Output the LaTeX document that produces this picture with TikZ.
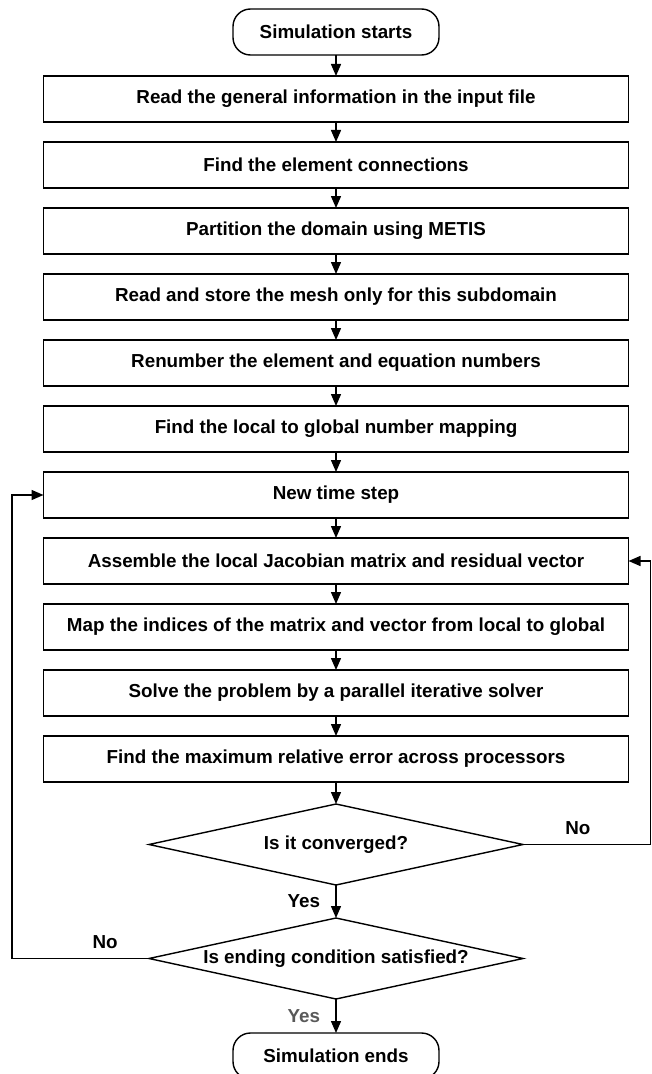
\documentclass[tikz,border=0pt]{standalone}
\usepackage{fontspec}
\setmainfont{Liberation Sans}
\usetikzlibrary{positioning, shapes.geometric, arrows.meta}

\begin{document}
\begin{tikzpicture}[
    font=\fontsize{10.7}{13}\selectfont\bfseries,
    node distance=0.4cm,
    every node/.style={outer sep=0pt},
    box/.style={draw, line width=0.8pt, minimum width=11.7cm, minimum height=0.92cm, inner sep=0pt},
    term/.style={draw, line width=0.8pt, rounded corners=0.35cm, minimum width=4.12cm, minimum height=0.92cm},
    decision/.style={draw, diamond, line width=0.8pt, aspect=4.6, inner sep=0pt, minimum width=7.48cm, minimum height=1.62cm},
    flow/.style={line width=0.8pt, -{Triangle[length=0.24cm, width=0.2cm]}}
]
  \useasboundingbox (0,0) rectangle (13.02,-21.48);

  % Main column
  \node[term] (start) at (6.72,-0.64) {Simulation starts};
  \node[box, below=0.42cm of start] (readinfo) {Read the general information in the input file};
  \node[box, below=of readinfo] (connect) {Find the element connections};
  \node[box, below=of connect] (metis) {Partition the domain using METIS};
  \node[box, below=of metis] (mesh) {Read and store the mesh only for this subdomain};
  \node[box, below=of mesh] (renum) {Renumber the element and equation numbers};
  \node[box, below=of renum] (mapping) {Find the local to global number mapping};
  \node[box, below=of mapping] (tstep) {New time step};
  \node[box, below=of tstep] (assemble) {Assemble the local Jacobian matrix and residual vector};
  \node[box, below=of assemble] (globmap) {Map the indices of the matrix and vector from local to global};
  \node[box, below=of globmap] (solve) {Solve the problem by a parallel iterative solver};
  \node[box, below=of solve] (maxerr) {Find the maximum relative error across processors};
  \node[decision, below=0.44cm of maxerr] (conv) {Is it converged?};
  \node[decision, below=0.66cm of conv] (ending) {Is ending condition satisfied?};
  \node[term, below=0.68cm of ending] (finish) {Simulation ends};

  % Straight arrows
  \draw[flow] (start) -- (readinfo);
  \draw[flow] (readinfo) -- (connect);
  \draw[flow] (connect) -- (metis);
  \draw[flow] (metis) -- (mesh);
  \draw[flow] (mesh) -- (renum);
  \draw[flow] (renum) -- (mapping);
  \draw[flow] (mapping) -- (tstep);
  \draw[flow] (tstep) -- (assemble);
  \draw[flow] (assemble) -- (globmap);
  \draw[flow] (globmap) -- (solve);
  \draw[flow] (solve) -- (maxerr);
  \draw[flow] (maxerr) -- (conv);
  \draw[flow] (conv) -- node[left=0.2cm] {Yes} (ending);
  \draw[flow] (ending) -- node[left=0.2cm, text=black!65] {Yes} (finish);

  % Loops back
  \coordinate (rturn) at (13.01,0);
  \coordinate (lturn) at (0.24,0);
  \draw[flow] (conv.east) -- node[pos=0.43, above=2pt] {No} (conv.east -| rturn) |- (assemble.east);
  \draw[flow] (ending.west) -- node[pos=0.32, above=2pt] {No} (ending.west -| lturn) |- (tstep.west);
\end{tikzpicture}
\end{document}
